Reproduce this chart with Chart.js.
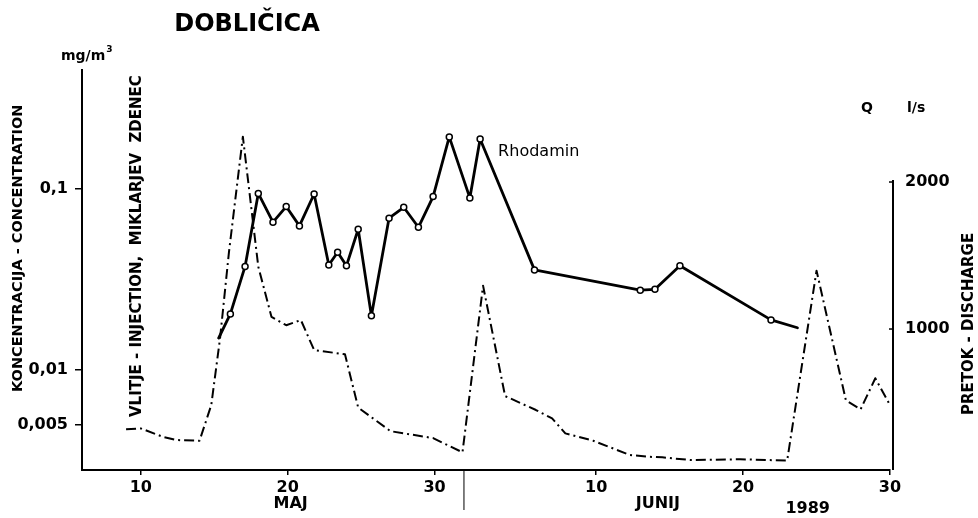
<!DOCTYPE html>
<html>
<head>
<meta charset="utf-8">
<title>Dobličica</title>
<script src="https://cdn.jsdelivr.net/npm/chart.js@4.4.1/dist/chart.umd.min.js"></script>
<style>
  html, body { margin: 0; padding: 0; background: #fff; }
  canvas { display: block; }
</style>
</head>
<body>
<canvas id="chart" width="978" height="518"></canvas>
<script>
// days are counted from 1 May 1989 (June d -> 31 + d)
const rhodDays = [15.3, 16.1, 17.1, 18, 19, 19.9, 20.8, 21.8, 22.8, 23.4, 24, 24.8, 25.7, 26.9, 27.9, 28.9, 29.9, 31, 32.4, 33.1, 36.8, 44, 45, 46.7, 52.9, 54.7];
const rhodConc = [0.0150, 0.0204, 0.0373, 0.0944, 0.0655, 0.0799, 0.0625, 0.0938, 0.0380, 0.0447, 0.0376, 0.0599, 0.0199, 0.0689, 0.0792, 0.0614, 0.0907, 0.1938, 0.0892, 0.1889, 0.0357, 0.0276, 0.0279, 0.0376, 0.0189, 0.0171];

const flowDays = [9, 10, 11.5, 12.4, 14, 14.8, 15.4, 16, 16.95, 18, 18.9, 19.9, 20.9, 21.8, 23.9, 24.8, 27, 29.9, 31.9, 33.3, 34.8, 36.9, 38, 38.9, 40.8, 43.3, 44.6, 45.5, 47.4, 50.8, 54, 56, 58, 59, 60, 61];
const flowQ = [318, 324, 267, 245, 240, 483, 939, 1520, 2308, 1424, 1082, 1026, 1061, 857, 828, 466, 305, 258, 161, 1295, 544, 449, 392, 290, 240, 143, 131, 127, 109, 114, 105, 1397, 514, 454, 665, 483];

const xTicks = [10, 20, 30, 41, 51, 61];
const xTickLabels = ['10', '20', '30', '10', '20', '30'];
const concTicks = [0.005, 0.01, 0.1];
const concTickLabels = ['0,005', '0,01', '0,1'];
const flowTicks = [1000, 2000];
const flowTickLabels = ['1000', '2000'];

const monthNames = ['MAJ', 'JUNIJ', '1989'];
const monthDays = [20.2, 45.2, 55.4];
const monthSplit = 32;

const FONT = "'DejaVu Sans', sans-serif";
Chart.defaults.font.family = FONT;
Chart.defaults.color = '#000';

function vtext(ctx, str, cx, bottomY, font) {
    ctx.save();
    ctx.translate(cx, bottomY);
    ctx.rotate(-Math.PI / 2);
    ctx.font = font;
    ctx.textAlign = 'left';
    ctx.textBaseline = 'middle';
    ctx.fillText(str, 0, 0);
    ctx.restore();
}

// texts, right axis line and month divider
const extras = {
    id: 'extras',
    afterDraw(chart) {
        const { ctx, chartArea, scales } = chart;
        const x = scales.x, yc = scales.y, yq = scales.y1;
        ctx.save();
        ctx.fillStyle = '#000';
        ctx.strokeStyle = '#000';

        // right axis only runs from 2000 down, ticks point inward
        const xr = chartArea.right + 3;
        ctx.lineWidth = 2;
        ctx.beginPath();
        ctx.moveTo(xr, yq.getPixelForValue(2000) - 2);
        ctx.lineTo(xr, chartArea.bottom);
        ctx.stroke();
        ctx.lineWidth = 1.5;
        flowTicks.forEach(v => {
            const yy = yq.getPixelForValue(v);
            ctx.beginPath();
            ctx.moveTo(xr - 4, yy);
            ctx.lineTo(xr, yy);
            ctx.stroke();
        });

        // May / June divider
        const xd = x.getPixelForValue(monthSplit);
        ctx.lineWidth = 1;
        ctx.beginPath();
        ctx.moveTo(xd, chartArea.bottom);
        ctx.lineTo(xd, chartArea.bottom + 40);
        ctx.stroke();

        ctx.textAlign = 'center';
        ctx.textBaseline = 'middle';
        ctx.font = "bold 24px " + FONT;
        ctx.fillText('DOBLIČICA', 247, 25);

        // units
        ctx.font = "bold 14px " + FONT;
        ctx.textAlign = 'left';
        ctx.fillText('mg/m', 61, 56);
        const w = ctx.measureText('mg/m').width;
        ctx.font = "bold 9px " + FONT;
        ctx.fillText('3', 61 + w + 1, 50);
        ctx.font = "bold 14px " + FONT;
        ctx.textAlign = 'center';
        ctx.fillText('Q', 867, 108);
        ctx.textAlign = 'left';
        ctx.fillText('l/s', 907, 108);

        // months
        ctx.font = "bold 16px " + FONT;
        ctx.textAlign = 'center';
        monthNames.forEach((m, i) => {
            ctx.fillText(m, x.getPixelForValue(monthDays[i]), i === 2 ? 509 : 504);
        });

        // series label
        ctx.font = "16px " + FONT;
        ctx.textAlign = 'left';
        ctx.fillText('Rhodamin', x.getPixelForValue(33.1) + 18, yc.getPixelForValue(0.1889) + 13);

        // rotated titles
        vtext(ctx, 'KONCENTRACIJA - CONCENTRATION', 18, 392, "bold 14.5px " + FONT);
        vtext(ctx, 'PRETOK - DISCHARGE', 969, 415, "bold 15px " + FONT);
        vtext(ctx, 'VLITJE - INJECTION,  MIKLARJEV  ZDENEC', 137, 417, "bold 15px " + FONT);
        ctx.restore();
    }
};

new Chart(document.getElementById('chart'), {
    type: 'line',
    data: {
        datasets: [
            {
                label: 'Rhodamin',
                data: rhodDays.map((d, i) => ({ x: d, y: rhodConc[i] })),
                yAxisID: 'y',
                borderColor: '#000',
                borderWidth: 2.8,
                borderJoinStyle: 'round',
                borderCapStyle: 'round',
                tension: 0,
                pointRadius: rhodDays.map((d, i) => (i === 0 || i === rhodDays.length - 1) ? 0 : 3),
                pointBackgroundColor: '#fff',
                pointBorderColor: '#000',
                pointBorderWidth: 1.5
            },
            {
                label: 'Q',
                data: flowDays.map((d, i) => ({ x: d, y: flowQ[i] })),
                yAxisID: 'y1',
                borderColor: '#000',
                borderWidth: 2,
                borderDash: [10, 4, 2, 4],
                borderJoinStyle: 'round',
                tension: 0,
                pointRadius: 0
            }
        ]
    },
    options: {
        responsive: false,
        animation: false,
        devicePixelRatio: 1,
        layout: { padding: { top: 70, left: 0, right: 0, bottom: 0 } },
        plugins: { legend: { display: false }, tooltip: { enabled: false } },
        scales: {
            x: {
                type: 'linear',
                min: 6,
                max: 61,
                afterFit(s) { s.height = 48; },
                afterBuildTicks(s) { s.ticks = xTicks.map(v => ({ value: v })); },
                ticks: {
                    callback: (v, i) => xTickLabels[i],
                    font: { size: 16, weight: 'bold' },
                    color: '#000',
                    padding: 3,
                    maxRotation: 0,
                    autoSkip: false
                },
                grid: { drawOnChartArea: false, tickLength: 5, color: '#000', lineWidth: 1.5 },
                border: { color: '#000', width: 2 }
            },
            y: {
                type: 'logarithmic',
                position: 'left',
                min: 0.0028,
                max: 0.454,
                afterFit(s) { s.width = 82; },
                afterBuildTicks(s) { s.ticks = concTicks.map(v => ({ value: v })); },
                ticks: {
                    callback: (v, i) => concTickLabels[i],
                    font: { size: 16, weight: 'bold' },
                    color: '#000',
                    padding: 7,
                    autoSkip: false
                },
                grid: { drawOnChartArea: false, tickLength: 7, color: '#000', lineWidth: 1.5 },
                border: { color: '#000', width: 2 }
            },
            y1: {
                type: 'linear',
                position: 'right',
                min: 41,
                max: 2762,
                afterFit(s) { s.width = 88; },
                afterBuildTicks(s) { s.ticks = flowTicks.map(v => ({ value: v })); },
                ticks: {
                    callback: (v, i) => flowTickLabels[i],
                    font: { size: 16, weight: 'bold' },
                    color: '#000',
                    padding: 15,
                    autoSkip: false
                },
                grid: { display: false, drawOnChartArea: false, drawTicks: false, tickLength: 3 },
                border: { display: false }
            }
        }
    },
    plugins: [extras]
});
</script>
</body>
</html>
